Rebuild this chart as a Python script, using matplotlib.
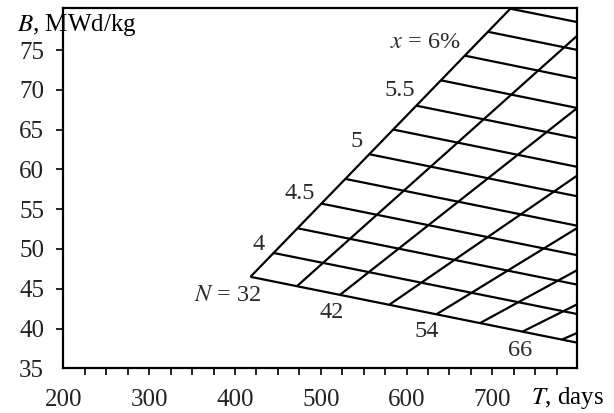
import matplotlib
matplotlib.use("Agg")
import matplotlib.pyplot as plt

plt.rcParams['font.family'] = ['Liberation Serif', 'DejaVu Serif']
plt.rcParams['mathtext.fontset'] = 'stix'

# enrichment lines x (%), they start on the N = 32 line
enrichment = [3.75, 4.0, 4.25, 4.5, 4.75, 5.0, 5.25, 5.5, 5.75, 6.0, 6.25, 6.5]
x_start_T = [418, 445, 473, 501, 529, 557, 585, 612, 640, 668, 695, 721]
x_start_B = [46.5, 49.5, 52.6, 55.7, 58.8, 61.9, 65.0, 68.0, 71.2, 74.3, 77.3, 80.2]
# burnup of every enrichment line at T = 800 days
x_end_T = [800] * 12
x_end_B = [38.2, 41.8, 45.5, 49.2, 52.9, 56.6, 60.3, 63.9, 67.7, 71.4, 75.0, 78.5]

# reload batch lines N, they start on the x = 3.75 line
reload_N = [32, 37, 42, 48, 54, 60, 66, 72]
n_start_T = [418, 472, 522, 580, 635, 686, 735, 781]
n_start_B = [46.5, 45.3, 44.2, 43.0, 41.8, 40.7, 39.6, 38.6]
n_end_T = [721, 800, 800, 800, 800, 800, 800, 800]
n_end_B = [80.2, 76.9, 67.8, 59.3, 52.7, 47.4, 43.1, 39.5]

# which lines get a label
x_labels = {4.0: '4', 4.5: '4.5', 5.0: '5', 5.5: '5.5', 6.0: '$x$ = 6%'}
n_labels = {32: '$N$ = 32', 42: '42', 54: '54', 66: '66'}

fig = plt.figure(figsize=(6.14, 4.13), dpi=100)
ax = fig.add_axes([0.1034, 0.1082, 0.8358, 0.8736])

for i in range(len(enrichment)):
    ax.plot([x_start_T[i], x_end_T[i]], [x_start_B[i], x_end_B[i]],
            color='black', lw=1.6, solid_capstyle='butt')
for i in range(len(reload_N)):
    ax.plot([n_start_T[i], n_end_T[i]], [n_start_B[i], n_end_B[i]],
            color='black', lw=1.6, solid_capstyle='butt')

# labels sit a bit up-left of the line starts
x_label_pos = {4.0: (427, 50.6), 4.5: (476, 57.0), 5.0: (542, 63.5),
               5.5: (592, 69.9), 6.0: (622, 76.0)}
for x, txt in x_labels.items():
    tx, ty = x_label_pos[x]
    ax.text(tx, ty, txt, fontsize=17.5, ha='center', va='center', color='#2a2a2a')

n_label_pos = {32: (391, 44.1), 42: (513, 42.0), 54: (624, 39.6), 66: (733, 37.2)}
for n, txt in n_labels.items():
    tx, ty = n_label_pos[n]
    ax.text(tx, ty, txt, fontsize=17.5, ha='center', va='center', color='#2a2a2a')

ax.set_xlim(200, 798.4)
ax.set_ylim(35, 80.35)
ax.set_xticks([200, 300, 400, 500, 600, 700])
ax.set_xticks(range(225, 800, 25), minor=True)
ax.set_yticks(range(35, 80, 5))
ax.tick_params(which='both', direction='out', length=5, width=1.2,
               labelsize=18, colors='black', labelcolor='#222222')
ax.tick_params(axis='x', which='both', pad=10)
ax.tick_params(axis='y', pad=9)
# no tick marks at the corner
ax.xaxis.get_major_ticks()[0].tick1line.set_visible(False)
ax.yaxis.get_major_ticks()[0].tick1line.set_visible(False)
for s in ax.spines.values():
    s.set_linewidth(1.6)

fig.text(16.7 / 614, 1 - 25 / 413, '$B$, MWd/kg', fontsize=18, ha='left', va='center')
fig.text(531 / 614, 1 - 398 / 413, '$T$, days', fontsize=18, ha='left', va='center')

fig.savefig('out.png', dpi=100)
